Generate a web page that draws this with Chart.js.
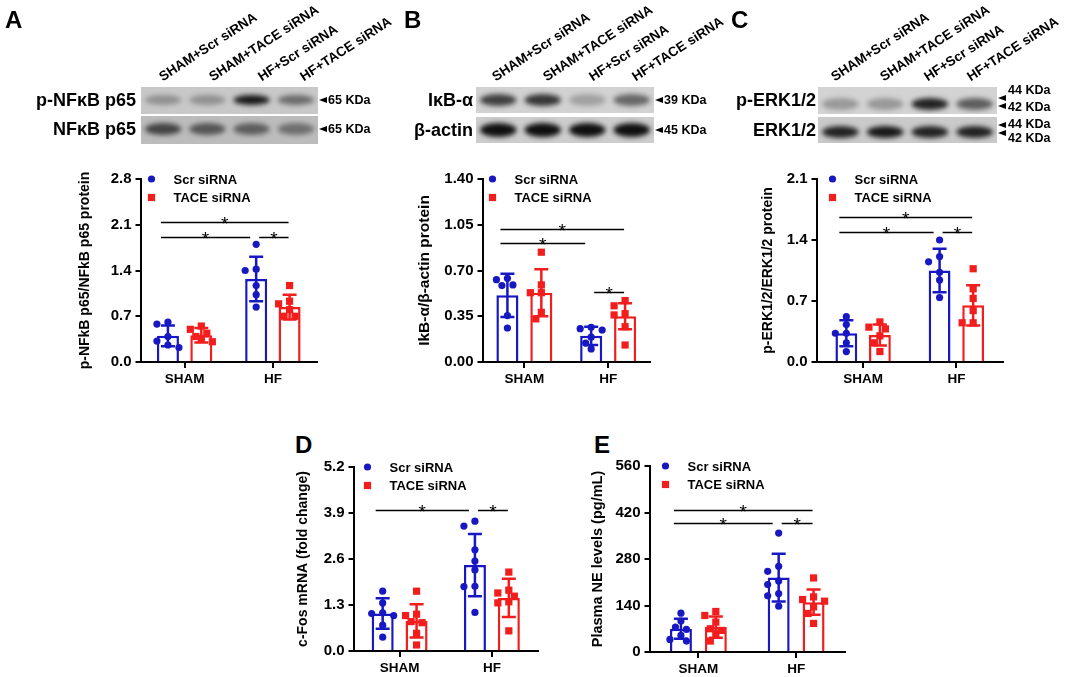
<!DOCTYPE html>
<html>
<head>
<meta charset="utf-8">
<script src="https://cdn.jsdelivr.net/npm/chart.js@4.4.0/dist/chart.umd.min.js"></script>
<style>
  body { margin: 0; background: #fff; width: 1065px; height: 677px; position: relative; overflow: hidden;
         font-family: "Liberation Sans", Arial, sans-serif; color: #000; }
  .t { position: absolute; font-weight: bold; white-space: nowrap; line-height: 1; }
  .letter { font-size: 24px; }
  .blotname { font-size: 18px; text-align: right; width: 130px; }
  .kda { font-size: 12.5px; }
  .lane { font-size: 13.5px; transform-origin: 0 100%; transform: rotate(-33deg); }
  .arr { position: absolute; width: 0; height: 0; border-top: 3.5px solid transparent;
         border-bottom: 3.5px solid transparent; border-right: 8px solid #000; }
  canvas { position: absolute; }
</style>
</head>
<body>
<canvas id="blots" width="1065" height="150" style="left:0;top:0"></canvas>

<div class="t letter" style="left:5px;top:8px">A</div>
<div class="t letter" style="left:404px;top:8px">B</div>
<div class="t letter" style="left:731px;top:8px">C</div>
<div class="t letter" style="left:295px;top:433px">D</div>
<div class="t letter" style="left:594px;top:433px">E</div>

<div class="t lane" style="left:164px;top:70px">SHAM+Scr siRNA</div>
<div class="t lane" style="left:214px;top:70px">SHAM+TACE siRNA</div>
<div class="t lane" style="left:263px;top:70px">HF+Scr siRNA</div>
<div class="t lane" style="left:305px;top:70px">HF+TACE siRNA</div>
<div class="t lane" style="left:497px;top:70px">SHAM+Scr siRNA</div>
<div class="t lane" style="left:548px;top:70px">SHAM+TACE siRNA</div>
<div class="t lane" style="left:594px;top:70px">HF+Scr siRNA</div>
<div class="t lane" style="left:637px;top:70px">HF+TACE siRNA</div>
<div class="t lane" style="left:836px;top:70px">SHAM+Scr siRNA</div>
<div class="t lane" style="left:885px;top:70px">SHAM+TACE siRNA</div>
<div class="t lane" style="left:929px;top:70px">HF+Scr siRNA</div>
<div class="t lane" style="left:972px;top:70px">HF+TACE siRNA</div>

<div class="t blotname" style="left:6px;top:91px">p-NF&kappa;B p65</div>
<div class="t blotname" style="left:6px;top:120px">NF&kappa;B p65</div>
<div class="t blotname" style="left:343px;top:91px">I&kappa;B-&alpha;</div>
<div class="t blotname" style="left:343px;top:121px">&beta;-actin</div>
<div class="t blotname" style="left:686px;top:91px">p-ERK1/2</div>
<div class="t blotname" style="left:686px;top:121px">ERK1/2</div>

<div class="arr" style="left:319px;top:97px"></div><div class="t kda" style="left:328px;top:94px">65 KDa</div>
<div class="arr" style="left:319px;top:126px"></div><div class="t kda" style="left:328px;top:123px">65 KDa</div>
<div class="arr" style="left:655px;top:97px"></div><div class="t kda" style="left:664px;top:94px">39 KDa</div>
<div class="arr" style="left:655px;top:127px"></div><div class="t kda" style="left:664px;top:124px">45 KDa</div>
<div class="arr" style="left:998px;top:95px"></div><div class="arr" style="left:998px;top:103px"></div>
<div class="t kda" style="left:1008px;top:84px">44 KDa</div><div class="t kda" style="left:1008px;top:101px">42 KDa</div>
<div class="arr" style="left:998px;top:122px"></div><div class="arr" style="left:998px;top:130px"></div>
<div class="t kda" style="left:1008px;top:118px">44 KDa</div><div class="t kda" style="left:1008px;top:132px">42 KDa</div>

<script>
const groups = ['SHAM', 'HF'];
const series = ['Scr siRNA', 'TACE siRNA'];
const colors = ['#1818c2', '#f21d1d'];

// A: p-NFkB p65 / NFkB p65
const aTicks = [0, 0.7, 1.4, 2.1, 2.8];
const aScrMean = [0.40, 1.27];
const aScrSd = [0.16, 0.34];
const aTaceMean = [0.41, 0.84];
const aTaceSd = [0.11, 0.19];
const aScrDots = [[0.61, 0.58, 0.39, 0.32, 0.26, 0.22], [1.80, 1.42, 1.40, 1.17, 1.03, 0.84]];
const aTaceDots = [[0.55, 0.50, 0.44, 0.39, 0.36, 0.31], [1.17, 0.93, 0.89, 0.80, 0.70, 0.70]];
const aSig = [[0, 0, 1, 1, 2.14], [0, 0, 1, 0, 1.92], [1, 0, 1, 1, 1.92]];

// B: IkB-a / b-actin
const bTicks = [0, 0.35, 0.70, 1.05, 1.40];
const bScrMean = [0.51, 0.20];
const bScrSd = [0.165, 0.07];
const bTaceMean = [0.53, 0.35];
const bTaceSd = [0.18, 0.10];
const bScrDots = [[0.64, 0.63, 0.59, 0.585, 0.355, 0.26], [0.265, 0.255, 0.245, 0.19, 0.145, 0.10]];
const bTaceDots = [[0.84, 0.59, 0.53, 0.53, 0.38, 0.33], [0.47, 0.43, 0.37, 0.36, 0.27, 0.13]];
const bSig = [[0, 0, 1, 1, 1.02], [0, 0, 1, 0, 0.91], [1, 0, 1, 1, 0.535]];

// C: p-ERK1/2 / ERK1/2
const cTicks = [0, 0.7, 1.4, 2.1];
const cScrMean = [0.33, 1.05];
const cScrSd = [0.15, 0.25];
const cTaceMean = [0.31, 0.65];
const cTaceSd = [0.12, 0.23];
const cScrDots = [[0.52, 0.43, 0.33, 0.33, 0.22, 0.12], [1.40, 1.21, 1.15, 1.03, 0.94, 0.74]];
const cTaceDots = [[0.46, 0.40, 0.38, 0.30, 0.22, 0.12], [1.07, 0.84, 0.73, 0.59, 0.45, 0.45]];
const cSig = [[0, 0, 1, 1, 1.66], [0, 0, 1, 0, 1.49], [1, 0, 1, 1, 1.49]];

// D: c-Fos mRNA
const dTicks = [0, 1.3, 2.6, 3.9, 5.2];
const dScrMean = [1.06, 2.43];
const dScrSd = [0.43, 0.88];
const dTaceMean = [0.85, 1.50];
const dTaceSd = [0.47, 0.54];
const dScrDots = [[1.69, 1.36, 1.08, 1.06, 1.00, 0.73, 0.39], [3.67, 3.53, 2.86, 2.54, 2.29, 1.83, 1.82, 1.09]];
const dTaceDots = [[1.69, 1.04, 1.00, 0.83, 0.80, 0.50, 0.17], [2.23, 1.72, 1.64, 1.55, 1.39, 1.36, 0.57]];
const dSig = [[0, 0, 1, 0, 3.98], [1, 0, 1, 1, 3.98]];

// E: plasma NE
const eTicks = [0, 140, 280, 420, 560];
const eScrMean = [70, 224];
const eScrSd = [30, 72];
const eTaceMean = [75, 150];
const eTaceSd = [32, 38];
const eScrDots = [[117, 93, 75, 68, 50, 38, 33], [358, 258, 243, 214, 203, 176, 169, 138]];
const eTaceDots = [[122, 110, 90, 70, 65, 55, 33], [223, 166, 158, 153, 136, 116, 86]];
const eSig = [[0, 0, 1, 1, 427], [0, 0, 1, 0, 387], [1, 0, 1, 1, 387]];

const FONT = '"Liberation Sans", Arial, sans-serif';

// western blot strips (decoration)
(function drawBlots() {
  const ctx = document.getElementById('blots').getContext('2d');
  const strips = [
    [141, 87, 177, 27, '#c8c8c8', 100, 5, [0.3, 0.3, 0.95, 0.5]],
    [141, 116, 177, 28, '#bcbcbc', 129, 6, [0.7, 0.6, 0.55, 0.45]],
    [476, 87, 178, 26, '#d2d2d2', 100, 6, [0.75, 0.8, 0.25, 0.55]],
    [476, 117, 178, 26, '#cdcdcd', 130, 7, [1, 1, 1, 1]],
    [818, 87, 179, 27, '#d3d3d3', 104, 6, [0.3, 0.3, 0.9, 0.6]],
    [818, 117, 179, 26, '#cacaca', 132, 6, [0.9, 0.95, 0.9, 0.9]]
  ];
  strips.forEach(([x, y, w, h, bg, cy, ry, lanes]) => {
    ctx.save();
    ctx.fillStyle = bg;
    ctx.fillRect(x, y, w, h);
    ctx.beginPath();
    ctx.rect(x, y, w, h);
    ctx.clip();
    ctx.filter = 'blur(2.5px)';
    lanes.forEach((k, i) => {
      const cx = x + w * (i + 0.5) / 4;
      ctx.fillStyle = 'rgba(15,15,15,' + k + ')';
      ctx.beginPath();
      ctx.ellipse(cx, cy, w / 8 * 0.82, ry, 0, 0, Math.PI * 2);
      ctx.fill();
    });
    ctx.restore();
  });
})();

function panel(box, p) {
  const left = box.titleX - 8.5;
  const top = box.top - 14;
  const cv = document.createElement('canvas');
  cv.width = box.right - left + 8;
  cv.height = box.bottom - top + 32;
  cv.style.left = left + 'px';
  cv.style.top = top + 'px';
  document.body.appendChild(cv);

  const extras = {
    id: 'extras',
    afterDatasetsDraw(chart) {
      const ctx = chart.ctx;
      const y = chart.scales.y;
      const metas = [chart.getDatasetMeta(0), chart.getDatasetMeta(1)];
      const means = [p.scrMean, p.taceMean];
      const sds = [p.scrSd, p.taceSd];
      const dots = [p.scrDots, p.taceDots];
      ctx.save();
      // error bars
      for (let s = 0; s < 2; s++) {
        for (let g = 0; g < 2; g++) {
          const x = metas[s].data[g].x;
          const y1 = y.getPixelForValue(means[s][g] + sds[s][g]);
          const y2 = y.getPixelForValue(means[s][g] - sds[s][g]);
          ctx.strokeStyle = colors[s];
          ctx.lineWidth = 2.5;
          ctx.beginPath();
          ctx.moveTo(x, y1); ctx.lineTo(x, y2);
          ctx.moveTo(x - 7, y1); ctx.lineTo(x + 7, y1);
          ctx.moveTo(x - 7, y2); ctx.lineTo(x + 7, y2);
          ctx.stroke();
        }
      }
      // individual points, simple beeswarm
      const r = 3.6;
      for (let s = 0; s < 2; s++) {
        for (let g = 0; g < 2; g++) {
          const cx = metas[s].data[g].x;
          const placed = [];
          dots[s][g].map(v => y.getPixelForValue(v)).sort((a, b) => a - b).forEach(py => {
            const tries = [0, -5.5, 5.5, -11, 11];
            let px = cx;
            for (const d of tries) {
              if (!placed.some(q => Math.hypot(q[0] - (cx + d), q[1] - py) < 2 * r + 0.5)) { px = cx + d; break; }
            }
            placed.push([px, py]);
            ctx.fillStyle = colors[s];
            if (s === 0) {
              ctx.beginPath(); ctx.arc(px, py, r, 0, Math.PI * 2); ctx.fill();
            } else {
              ctx.fillRect(px - r, py - r, 2 * r, 2 * r);
            }
          });
        }
      }
      // significance lines
      ctx.strokeStyle = '#000';
      ctx.fillStyle = '#000';
      ctx.lineWidth = 1.5;
      ctx.font = '19px ' + FONT;
      ctx.textAlign = 'center';
      ctx.textBaseline = 'alphabetic';
      p.sig.forEach(([g1, s1, g2, s2, v]) => {
        const x1 = metas[s1].data[g1].x + (g1 === 0 ? -7 : 3);
        const x2 = metas[s2].data[g2].x + (s2 === 0 ? -6 : -1);
        const yy = Math.round(y.getPixelForValue(v)) + 0.5;
        ctx.beginPath(); ctx.moveTo(x1, yy); ctx.lineTo(x2, yy); ctx.stroke();
        ctx.fillText('*', (x1 + x2) / 2, yy + 7);
      });
      // legend
      const area = chart.chartArea;
      const lx = area.left + p.lgX;
      ctx.font = 'bold 13px ' + FONT;
      ctx.textAlign = 'left';
      ctx.textBaseline = 'middle';
      series.forEach((name, s) => {
        const ly = area.top + s * 18.5;
        ctx.fillStyle = colors[s];
        if (s === 0) { ctx.beginPath(); ctx.arc(lx, ly, r, 0, Math.PI * 2); ctx.fill(); }
        else ctx.fillRect(lx - r, ly - r, 2 * r, 2 * r);
        ctx.fillStyle = '#000';
        ctx.fillText(name, lx + 22, ly + 1);
      });
      ctx.restore();
    }
  };

  new Chart(cv, {
    type: 'bar',
    data: {
      labels: groups,
      datasets: [
        { label: series[0], data: p.scrMean, backgroundColor: '#fff', borderColor: colors[0], borderWidth: 2.5,
          barPercentage: p.bp, categoryPercentage: p.cp },
        { label: series[1], data: p.taceMean, backgroundColor: '#fff', borderColor: colors[1], borderWidth: 2.5,
          barPercentage: p.bp, categoryPercentage: p.cp }
      ]
    },
    options: {
      responsive: false,
      animation: false,
      layout: { padding: { top: 14, right: 8, left: 0, bottom: 0 } },
      plugins: { legend: { display: false }, tooltip: { enabled: false } },
      scales: {
        x: {
          grid: { offset: false, drawOnChartArea: false, tickLength: 6, color: '#000', lineWidth: 2 },
          border: { color: '#000', width: 2 },
          ticks: { color: '#000', font: { family: FONT, weight: 'bold', size: 13.5 }, padding: 3 },
          afterFit: s => { s.height = 32; }
        },
        y: {
          min: p.ticks[0],
          max: p.ticks[p.ticks.length - 1],
          afterBuildTicks: s => { s.ticks = p.ticks.map(v => ({ value: v })); },
          ticks: { color: '#000', font: { family: FONT, weight: 'bold', size: 15 }, padding: 4,
                   callback: v => v.toFixed(p.dec) },
          grid: { drawOnChartArea: false, tickLength: 5, color: '#000', lineWidth: 2 },
          border: { color: '#000', width: 2 },
          title: { display: true, text: p.title, color: '#000', padding: 0,
                   font: { family: FONT, weight: 'bold', size: p.titleSize } },
          afterFit: s => { s.width = box.axisX - left; }
        }
      }
    },
    plugins: [extras]
  });
}

panel({ titleX: 85, axisX: 140, top: 179, bottom: 362, right: 317 },
  { title: 'p-NFkB p65/NFkB p65 protein', titleSize: 14, ticks: aTicks, dec: 1, scrMean: aScrMean, scrSd: aScrSd,
    taceMean: aTaceMean, taceSd: aTaceSd, scrDots: aScrDots, taceDots: aTaceDots, sig: aSig, lgX: 11, cp: 0.757, bp: 0.66 });
panel({ titleX: 423, axisX: 482, top: 179, bottom: 362, right: 650 },
  { title: 'IkB-\u03b1/\u03b2-actin protein', titleSize: 15.5, ticks: bTicks, dec: 2, scrMean: bScrMean, scrSd: bScrSd,
    taceMean: bTaceMean, taceSd: bTaceSd, scrDots: bScrDots, taceDots: bTaceDots, sig: bSig, lgX: 10, cp: 0.81, bp: 0.65 });
panel({ titleX: 768, axisX: 816, top: 179, bottom: 362, right: 1003 },
  { title: 'p-ERK1/2/ERK1/2 protein', titleSize: 14, ticks: cTicks, dec: 1, scrMean: cScrMean, scrSd: cScrSd,
    taceMean: cTaceMean, taceSd: cTaceSd, scrDots: cScrDots, taceDots: cTaceDots, sig: cSig, lgX: 16, cp: 0.72, bp: 0.65 });
panel({ titleX: 303, axisX: 353, top: 467, bottom: 651, right: 538 },
  { title: 'c-Fos mRNA (fold change)', titleSize: 14, ticks: dTicks, dec: 1, scrMean: dScrMean, scrSd: dScrSd,
    taceMean: dTaceMean, taceSd: dTaceSd, scrDots: dScrDots, taceDots: dTaceDots, sig: dSig, lgX: 14, cp: 0.735, bp: 0.65 });
panel({ titleX: 597, axisX: 649, top: 466, bottom: 652, right: 845 },
  { title: 'Plasma NE levels (pg/mL)', titleSize: 14.5, ticks: eTicks, dec: 0, scrMean: eScrMean, scrSd: eScrSd,
    taceMean: eTaceMean, taceSd: eTaceSd, scrDots: eScrDots, taceDots: eTaceDots, sig: eSig, lgX: 16, cp: 0.714, bp: 0.63 });
</script>
</body>
</html>
